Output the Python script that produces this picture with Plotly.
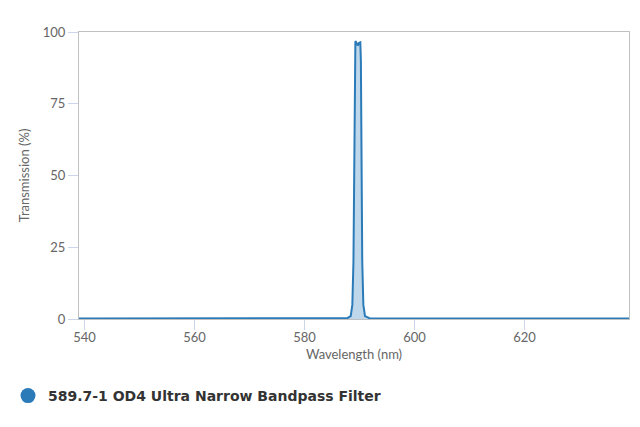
import plotly.graph_objects as go

wavelength = [539.0, 560.0, 580.0, 585.0, 587.8, 588.4, 588.7, 588.9, 589.05,
              589.15, 589.25, 589.35, 589.5, 589.7, 589.9, 590.15, 590.25,
              590.35, 590.5, 590.7, 591.0, 591.8, 595.0, 610.0, 639.0]
transmission = [0.2, 0.2, 0.2, 0.2, 0.3, 1.0, 5.0, 20.0, 60.0,
                90.0, 96.8, 96.6, 96.0, 95.3, 96.2, 96.4, 90.0,
                60.0, 20.0, 5.0, 1.0, 0.3, 0.2, 0.2, 0.2]

series_name = "589.7-1 OD4 Ultra Narrow Bandpass Filter"
x_ticks = [540, 560, 580, 600, 620]
y_ticks = [0, 25, 50, 75, 100]

line_color = "#2b7bb9"
tick_color = "#ccd6eb"
frame_color = "#c0c0c0"
text_color = "#666666"

fig = go.Figure()
fig.add_trace(go.Scatter(
    x=wavelength, y=transmission, mode="lines",
    line=dict(color=line_color, width=2),
    fill="tozeroy", fillcolor="rgba(43,123,185,0.3)",
    showlegend=False, hoverinfo="x+y",
))
fig.add_trace(go.Scatter(
    x=[None], y=[None], mode="markers", name=series_name,
    marker=dict(color=line_color, size=15, symbol="circle"),
))

fig.update_layout(
    width=632, height=419,
    margin=dict(l=71, r=11, t=24, b=108),
    paper_bgcolor="white", plot_bgcolor="white",
    font=dict(family="Lato, 'Open Sans', sans-serif", color=text_color, size=13),
    legend=dict(
        orientation="h", xref="container", yref="container",
        x=-0.022, y=0.074, xanchor="left", yanchor="middle",
        font=dict(family="'DejaVu Sans', sans-serif", size=14, color="#333333", weight="bold"),
        itemsizing="trace",
    ),
)
fig.update_xaxes(
    range=[539, 639], tickvals=x_ticks, ticks="outside", ticklen=10,
    tickcolor=tick_color, showgrid=False, zeroline=False,
    showline=True, linecolor=frame_color, linewidth=1, mirror=True,
    ticklabelstandoff=-4,
    title=dict(text="Wavelength (nm)", standoff=6,
               font=dict(size=13, color=text_color)),
    tickfont=dict(size=13, color=text_color),
)
fig.update_yaxes(
    range=[0, 100], tickvals=y_ticks, ticks="outside", ticklen=10,
    tickcolor=tick_color, showgrid=False, zeroline=False,
    showline=True, linecolor=frame_color, linewidth=1, mirror=True,
    title=dict(text="Transmission (%)", standoff=10,
               font=dict(size=13, color=text_color)),
    tickfont=dict(size=13, color=text_color),
)

fig.write_html("out.html")
